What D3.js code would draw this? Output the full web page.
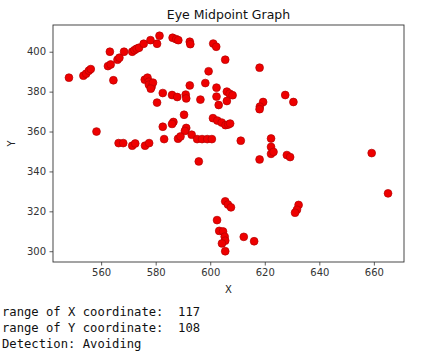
<!DOCTYPE html>
<html>
<head>
<meta charset="utf-8">
<script src="https://cdn.jsdelivr.net/npm/d3@7"></script>
<style>
  html, body { margin: 0; padding: 0; background: #fff; }
  svg { display: block; }
</style>
</head>
<body>
<script>
const title = "Eye Midpoint Graph";
const xLabel = "X";
const yLabel = "Y";
const xTicks = [560, 580, 600, 620, 640, 660];
const yTicks = [300, 320, 340, 360, 380, 400];
const xs = [548.2,553.5,554.5,555.5,556.2,562.5,563.5,563.2,564.5,566,566.7,568.4,571.4,572.2,573,573.9,575.6,578.1,580.5,581.4,
  576,577,577.5,577.5,578.5,579,578.2,586.2,587.5,588.3,592.5,592.7,582.6,580.5,586,587.9,591,591.2,592.5,596.4,
  598.2,599.4,601.1,602.2,605.5,618.1,602.3,606.1,607.1,608.2,602.3,603.1,606.1,619.4,618.2,618.1,627.5,630.5,590.4,586.5,
  586,582.6,591.2,590.7,583.1,588.2,589.1,593.2,595.2,597,598.9,600.6,558.3,566.4,568.1,571.4,572.5,576.1,577.6,595.8,
  601,602.6,604.2,605.6,606.6,607.3,611.2,622.3,622.3,622.3,623.2,618.1,628.1,629.3,659.2,665.2,605.5,606.5,607.6,602.5,
  603.3,604.7,605.3,605.5,604.3,605.5,612.3,616.1,632.4,631.8,631.1];
const ys = [387,388,389,390.5,391.3,392.8,393.6,400,385.7,396,397,400,400,400.8,401.5,402,404,405.8,404,408,
  386,387,385,383.5,382.5,384.5,381.5,407,406.3,405.8,405,403.8,379.3,374.5,378.3,377.3,378.5,376.6,383.1,376,
  384.3,390.2,404.1,402.5,396,392,382,380,379,378.2,377.5,373.3,375.3,374.8,372.5,371.2,378.3,374.8,368.4,364.8,
  363.8,362.4,361.8,360.3,356.2,356.4,357.5,358.4,356.2,356.2,356.2,356.2,360,354.2,354.2,352.9,354,352.9,354.2,345,
  366.7,365.5,364.5,363.2,363.5,364,355.4,356.5,352.3,348.8,349.8,346,348.2,347.2,349.2,329,325,323.4,322,315.6,
  310.2,309.9,307.3,305.3,303.9,300,307.2,305,323.2,320.8,319.3];
const infoLines = ["range of X coordinate:  117", "range of Y coordinate:  108", "Detection: Avoiding"];

const W = 424, H = 358;
const plot = {left: 53, top: 25, right: 404, bottom: 262};

const svg = d3.select("body").append("svg").attr("width", W).attr("height", H);

const xMin = d3.min(xs), xMax = d3.max(xs), yMin = d3.min(ys), yMax = d3.max(ys);
const xPad = (xMax - xMin) * 0.05, yPad = (yMax - yMin) * 0.05;
const x = d3.scaleLinear().domain([xMin - xPad, xMax + xPad]).range([plot.left, plot.right]);
const y = d3.scaleLinear().domain([yMin - yPad, yMax + yPad]).range([plot.bottom, plot.top]);

const font = "'DejaVu Sans', sans-serif";

// points
const pts = xs.map((v, i) => ({x: v, y: ys[i]}));
svg.append("g").selectAll("circle").data(pts).join("circle")
  .attr("cx", d => x(d.x)).attr("cy", d => y(d.y)).attr("r", 3.9)
  .attr("fill", "#ee0000").attr("stroke", "#b40000").attr("stroke-width", 0.7);

// axes
const xAxis = d3.axisBottom(x).tickValues(xTicks).tickSize(3.5).tickPadding(3.5);
const yAxis = d3.axisLeft(y).tickValues(yTicks).tickSize(3.5).tickPadding(3.5);
const gx = svg.append("g").attr("transform", `translate(0,${plot.bottom})`).call(xAxis);
const gy = svg.append("g").attr("transform", `translate(${plot.left},0)`).call(yAxis);
[gx, gy].forEach(g => {
  g.select(".domain").remove();
  g.selectAll(".tick line").attr("stroke", "#333").attr("stroke-width", 0.8);
  g.selectAll(".tick text").attr("fill", "#333").style("font-family", font).style("font-size", "10px");
});

// frame
svg.append("rect").attr("x", plot.left).attr("y", plot.top)
  .attr("width", plot.right - plot.left).attr("height", plot.bottom - plot.top)
  .attr("fill", "none").attr("stroke", "#333").attr("stroke-width", 0.9);

// title & labels
svg.append("text").attr("x", (plot.left + plot.right) / 2).attr("y", 19)
  .attr("text-anchor", "middle").style("font-family", font).style("font-size", "12.5px")
  .attr("fill", "#111").text(title);
svg.append("text").attr("x", (plot.left + plot.right) / 2).attr("y", 293)
  .attr("text-anchor", "middle").style("font-family", font).style("font-size", "10px")
  .attr("fill", "#222").text(xLabel);
svg.append("text").attr("transform", `translate(15,${(plot.top + plot.bottom) / 2}) rotate(-90)`)
  .attr("text-anchor", "middle").style("font-family", font).style("font-size", "10px")
  .attr("fill", "#222").text(yLabel);

// info text
svg.append("g").selectAll("text").data(infoLines).join("text")
  .attr("x", 2).attr("y", (d, i) => 316 + i * 15.8)
  .style("font-family", "'DejaVu Sans Mono', 'Liberation Mono', monospace")
  .style("font-size", "12.2px").attr("fill", "#111")
  .attr("xml:space", "preserve").style("white-space", "pre")
  .text(d => d);
</script>
</body>
</html>
